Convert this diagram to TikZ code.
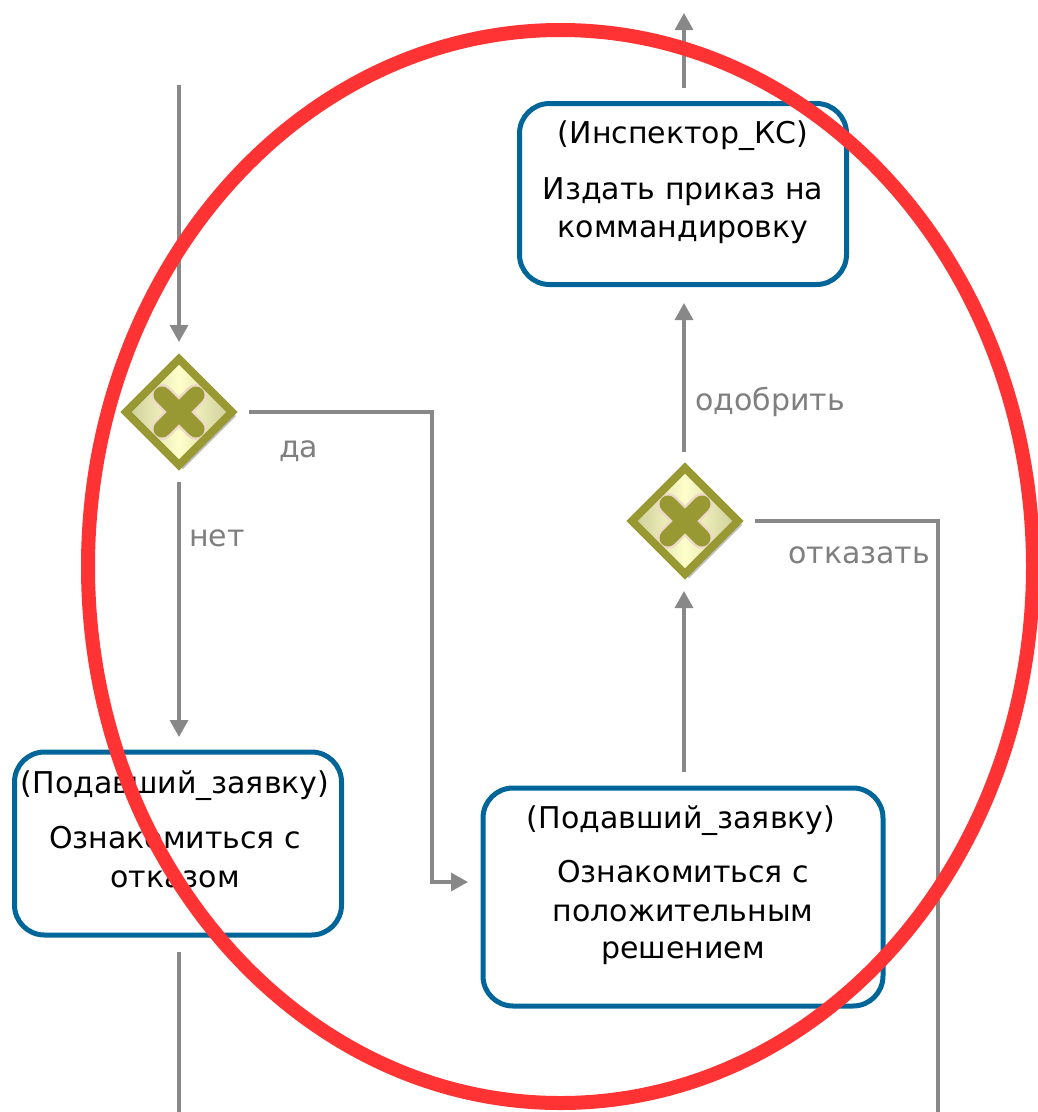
\documentclass[tikz,border=0pt]{standalone}
\usepackage{fontspec}
\setmainfont{DejaVu Sans}
\usetikzlibrary{arrows.meta,shapes.geometric,shadows}
\definecolor{boxblue}{HTML}{006699}
\definecolor{flowgray}{HTML}{888888}
\definecolor{labgray}{HTML}{7F7F7F}
\definecolor{gwolive}{HTML}{999933}
\definecolor{gwkhaki}{HTML}{CCCC99}
\definecolor{gwpale}{HTML}{FFFFCC}
\definecolor{gwpink}{HTML}{EED8C8}
\definecolor{ringred}{HTML}{FF3333}
\newcommand\gwcross{%
  \draw[gwpink, line width=22pt, line cap=round]
    ([shift={(-17,-17)}]path picture bounding box.center) -- ([shift={(17,17)}]path picture bounding box.center);
  \draw[gwpink, line width=22pt, line cap=round]
    ([shift={(-17,17)}]path picture bounding box.center) -- ([shift={(17,-17)}]path picture bounding box.center);
  \draw[gwolive, line width=17pt, line cap=round]
    ([shift={(-17,-17)}]path picture bounding box.center) -- ([shift={(17,17)}]path picture bounding box.center);
  \draw[gwolive, line width=17pt, line cap=round]
    ([shift={(-17,17)}]path picture bounding box.center) -- ([shift={(17,-17)}]path picture bounding box.center);
}
\begin{document}
\begin{tikzpicture}[x=1pt,y=-1pt,
  taskbox/.style={draw=boxblue, line width=5pt, rounded corners=30pt, fill=white, inner sep=0pt, outer sep=0pt},
  gateway/.style={diamond, aspect=1, inner sep=0pt, outer sep=0pt, minimum width=106pt, minimum height=106pt,
    draw=gwolive, line width=8pt, left color=gwkhaki, right color=gwkhaki, middle color=gwpale,
    drop shadow={shadow xshift=4pt, shadow yshift=-4pt, opacity=0.25, fill=black},
    path picture={\gwcross}},
  tasktext/.style={anchor=base, font=\fontsize{30}{36}\selectfont, text=black, inner sep=0pt},
  flowlabel/.style={anchor=base west, font=\fontsize{30}{36}\selectfont, text=labgray, inner sep=0pt},
  flow/.style={draw=flowgray, line width=3.3pt, -{Triangle[length=17pt,width=18pt]}},
  plainflow/.style={draw=flowgray, line width=3.3pt},
  ring/.style={draw=ringred, line width=14pt}
]
\useasboundingbox (0,0) rectangle (1037,1112);

% task boxes
\node[taskbox, minimum width=327pt, minimum height=181pt] (box1) at (683,194) {};
\node[taskbox, minimum width=327pt, minimum height=183pt] (boxL) at (178,843.5) {};
\node[taskbox, minimum width=400pt, minimum height=218pt] (boxR) at (683,897) {};

% texts in boxes
\node[tasktext] (t1a) at (683,143) {(Инспектор\_КС)};
\node[tasktext] (t1b) at (683,199) {Издать приказ на};
\node[tasktext] (t1c) at (683,237) {коммандировку};

\node[tasktext] (tLa) at (175,793) {(Подавший\_заявку)};
\node[tasktext] (tLb) at (175,848) {Ознакомиться с};
\node[tasktext] (tLc) at (175,887) {отказом};

\node[tasktext] (tRa) at (681,828) {(Подавший\_заявку)};
\node[tasktext] (tRb) at (683,882) {Ознакомиться с};
\node[tasktext] (tRc) at (683,921) {положительным};
\node[tasktext] (tRd) at (683,958) {решением};

% gateways
\node[gateway] (gw1) at (179,412) {};
\node[gateway] (gw2) at (685,521) {};

% free ends
\coordinate (inL) at (179,85);
\coordinate (outT) at (684,13);
\coordinate (j2) at (432,882);
\coordinate (endL) at (179,1112);
\coordinate (endR) at (938,1112);

% connectors
\draw[flow, shorten >=17pt] (inL) -- (gw1.north);
\draw[flow, shorten <=17pt, shorten >=15pt] (gw1.east) -| (j2) -- (j2 -| boxR.west);
\draw[flow, shorten <=17pt, shorten >=15pt] (gw1.south) -- (gw1.south |- boxL.north);
\draw[plainflow, shorten <=17pt] (boxL.south -| gw1.south) -- (endL);
\draw[flow, shorten <=16pt, shorten >=17pt] (boxR.north -| outT) -- (gw2.south -| outT);
\draw[flow, shorten <=16pt, shorten >=18.5pt] (gw2.north -| outT) -- (box1.south -| outT);
\draw[flow, shorten <=15.5pt] (box1.north -| outT) -- (outT);
\draw[plainflow, shorten <=17pt] (gw2.east) -| (endR);

% labels
\node[flowlabel] (lda) at (279,457) {да};
\node[flowlabel] (lnet) at (189,546) {нет};
\node[flowlabel] (lodo) at (695,410) {одобрить};
\node[flowlabel] (lotk) at (788,563) {отказать};

% red ring
\draw[ring] (560.5,566.5) ellipse [x radius=472.5, y radius=536.5];
\end{tikzpicture}
\end{document}
